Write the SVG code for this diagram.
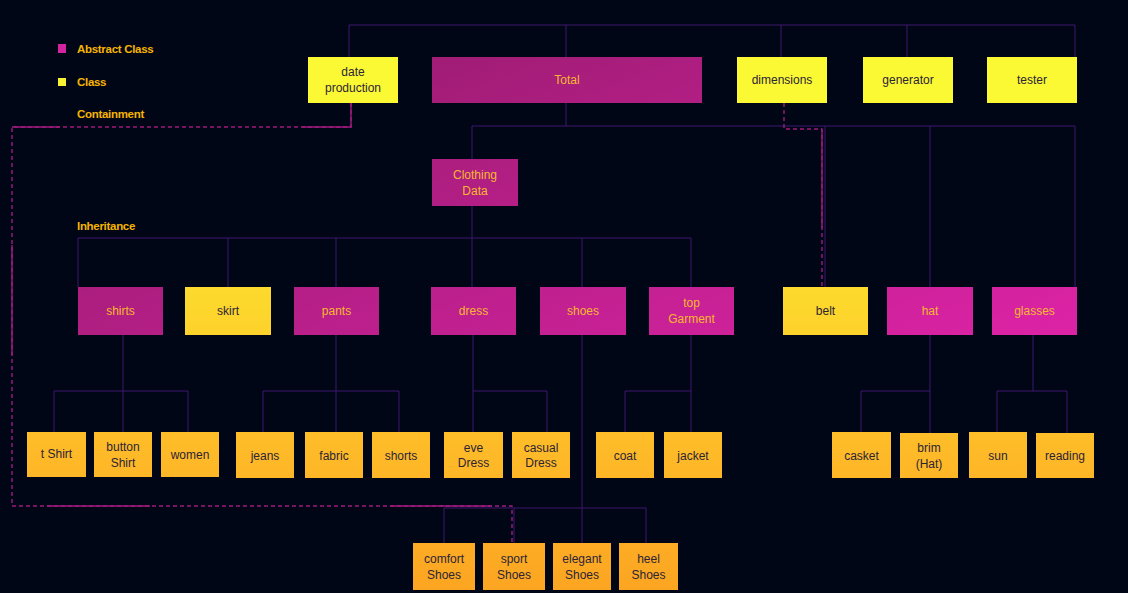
<svg xmlns="http://www.w3.org/2000/svg" width="1128" height="593" viewBox="0 0 1128 593">
<defs>
<linearGradient id="gAbs" gradientUnits="userSpaceOnUse" x1="0" y1="191" x2="188" y2="674">
<stop offset="0" stop-color="#9c1c72"/>
<stop offset="1" stop-color="#dc23a6"/>
</linearGradient>
<linearGradient id="gCls" gradientUnits="userSpaceOnUse" x1="0" y1="57" x2="0" y2="590">
<stop offset="0.08" stop-color="#fbf834"/>
<stop offset="0.48" stop-color="#fdd62c"/>
<stop offset="0.75" stop-color="#feb928"/>
<stop offset="1" stop-color="#fca522"/>
</linearGradient>
<style>
.abs rect{fill:url(#gAbs)}
.cls rect{fill:url(#gCls)}
text{font-family:"Liberation Sans",Arial,sans-serif;font-size:12px;text-anchor:middle}
.abs text{fill:#f6b82e}
.cls text{fill:#2b2436}
.legend{font-size:11.5px;font-weight:bold;fill:#f5b400;text-anchor:start;letter-spacing:-0.3px}
.inh{fill:none;stroke:#3d176f;stroke-width:1}
.con{fill:none;stroke:#9e1b7e;stroke-width:1.4;stroke-dasharray:4 3}
.cons{fill:none;stroke:#9e1b7e;stroke-width:1.4}
</style>
</defs>
<rect width="1128" height="593" fill="#010617"/>

<g id="legend">
<rect x="58" y="44" width="8" height="9" fill="#d4239f"/>
<text class="legend" x="77" y="53">Abstract Class</text>
<rect x="58" y="78" width="8" height="8" fill="#f8f234"/>
<text class="legend" x="77" y="86">Class</text>
<text class="legend" x="77" y="118">Containment</text>
<text class="legend" x="77" y="230">Inheritance</text>
</g>

<g id="connectors">
<path class="inh" d="M349,25H1075M349,25V57M566,25V57M781,25V57M907,25V57M1075,25V57"/>
<path class="inh" d="M566,103V126M472,126H1075M472,126V159M825,126V287M930,126V287M1075,126V287"/>
<path class="inh" d="M472,206V287M78,238H691M78,238V287M228,238V287M336,238V287M582,238V287M691,238V287"/>
<path class="inh" d="M123,335V391M54,391H188M54,391V432M123,391V432M188,391V432"/>
<path class="inh" d="M336,335V432M263,391H399M263,391V432M399,391V432"/>
<path class="inh" d="M473,335V432M473,391H547M547,391V432"/>
<path class="inh" d="M691,335V432M625,391H691M625,391V432"/>
<path class="inh" d="M582,335V543M444,508H646M444,508V543M514,508V543M646,508V543"/>
<path class="inh" d="M930,335V433M861,391H930M861,391V432"/>
<path class="inh" d="M1033,335V391M997,391H1067M997,391V432M1067,391V433"/>
<path class="con" d="M351,103V127H12V506H512V543"/>
<path class="cons" d="M351,103V127H302M60,127H12M12,245V355M47,506H150M390,506H492"/>
<path class="con" d="M784,103V129H822V287"/>
<path class="cons" d="M822,129V228"/>
</g>

<g id="n-date-production" class="cls"><rect x="308" y="57" width="90" height="46"/><text x="353" y="76">date</text><text x="353" y="92">production</text></g>
<g id="n-total" class="abs"><rect x="432" y="57" width="270" height="46"/><text x="567" y="84">Total</text></g>
<g id="n-dimensions" class="cls"><rect x="737" y="57" width="90" height="46"/><text x="782" y="84">dimensions</text></g>
<g id="n-generator" class="cls"><rect x="863" y="57" width="90" height="46"/><text x="908" y="84">generator</text></g>
<g id="n-tester" class="cls"><rect x="987" y="57" width="90" height="46"/><text x="1032" y="84">tester</text></g>

<g id="n-clothing-data" class="abs"><rect x="432" y="159" width="86" height="47"/><text x="475" y="179">Clothing</text><text x="475" y="195">Data</text></g>

<g id="n-shirts" class="abs"><rect x="78" y="287" width="85" height="48"/><text x="120.5" y="315">shirts</text></g>
<g id="n-skirt" class="cls"><rect x="185" y="287" width="86" height="48"/><text x="228" y="315">skirt</text></g>
<g id="n-pants" class="abs"><rect x="294" y="287" width="85" height="48"/><text x="336.5" y="315">pants</text></g>
<g id="n-dress" class="abs"><rect x="431" y="287" width="85" height="48"/><text x="473.5" y="315">dress</text></g>
<g id="n-shoes" class="abs"><rect x="540" y="287" width="86" height="48"/><text x="583" y="315">shoes</text></g>
<g id="n-top-garment" class="abs"><rect x="649" y="287" width="85" height="48"/><text x="691.5" y="307">top</text><text x="691.5" y="323">Garment</text></g>
<g id="n-belt" class="cls"><rect x="783" y="287" width="85" height="48"/><text x="825.5" y="315">belt</text></g>
<g id="n-hat" class="abs"><rect x="887" y="287" width="86" height="48"/><text x="930" y="315">hat</text></g>
<g id="n-glasses" class="abs"><rect x="992" y="287" width="85" height="48"/><text x="1034.5" y="315">glasses</text></g>

<g id="n-t-shirt" class="cls"><rect x="27" y="432" width="59" height="45"/><text x="56.5" y="458">t Shirt</text></g>
<g id="n-button-shirt" class="cls"><rect x="94" y="432" width="58" height="45"/><text x="123" y="451">button</text><text x="123" y="467">Shirt</text></g>
<g id="n-women" class="cls"><rect x="161" y="432" width="58" height="45"/><text x="190" y="459">women</text></g>
<g id="n-jeans" class="cls"><rect x="236" y="432" width="58" height="46"/><text x="265" y="460">jeans</text></g>
<g id="n-fabric" class="cls"><rect x="305" y="432" width="58" height="46"/><text x="334" y="460">fabric</text></g>
<g id="n-shorts" class="cls"><rect x="372" y="432" width="58" height="46"/><text x="401" y="460">shorts</text></g>
<g id="n-eve-dress" class="cls"><rect x="444" y="432" width="59" height="46"/><text x="473.5" y="452">eve</text><text x="473.5" y="467">Dress</text></g>
<g id="n-casual-dress" class="cls"><rect x="512" y="432" width="58" height="46"/><text x="541" y="452">casual</text><text x="541" y="467">Dress</text></g>
<g id="n-coat" class="cls"><rect x="596" y="432" width="58" height="46"/><text x="625" y="460">coat</text></g>
<g id="n-jacket" class="cls"><rect x="664" y="432" width="58" height="46"/><text x="693" y="460">jacket</text></g>
<g id="n-casket" class="cls"><rect x="832" y="432" width="59" height="46"/><text x="861.5" y="460">casket</text></g>
<g id="n-brim-hat" class="cls"><rect x="900" y="433" width="58" height="45"/><text x="929" y="452">brim</text><text x="929" y="468">(Hat)</text></g>
<g id="n-sun" class="cls"><rect x="969" y="432" width="58" height="46"/><text x="998" y="460">sun</text></g>
<g id="n-reading" class="cls"><rect x="1036" y="433" width="58" height="45"/><text x="1065" y="460">reading</text></g>

<g id="n-comfort-shoes" class="cls"><rect x="413" y="543" width="62" height="47"/><text x="444" y="563">comfort</text><text x="444" y="579">Shoes</text></g>
<g id="n-sport-shoes" class="cls"><rect x="483" y="543" width="62" height="47"/><text x="514" y="563">sport</text><text x="514" y="579">Shoes</text></g>
<g id="n-elegant-shoes" class="cls"><rect x="553" y="543" width="58" height="47"/><text x="582" y="563">elegant</text><text x="582" y="579">Shoes</text></g>
<g id="n-heel-shoes" class="cls"><rect x="619" y="543" width="59" height="47"/><text x="648.5" y="563">heel</text><text x="648.5" y="579">Shoes</text></g>
</svg>
